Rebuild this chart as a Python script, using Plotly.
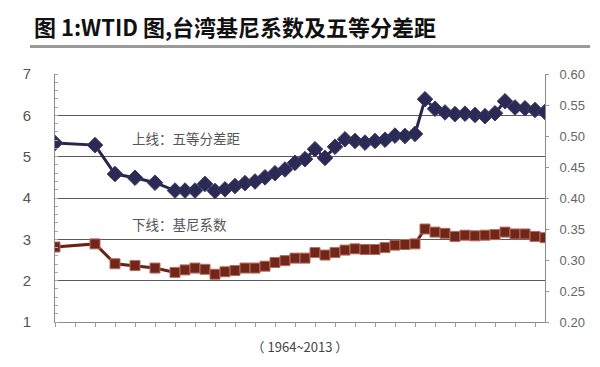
import plotly.graph_objects as go

years = [1964, 1968, 1970, 1972, 1974, 1976, 1977, 1978, 1979, 1980, 1981, 1982, 1983,
         1984, 1985, 1986, 1987, 1988, 1989, 1990, 1991, 1992, 1993, 1994, 1995, 1996,
         1997, 1998, 1999, 2000, 2001, 2002, 2003, 2004, 2005, 2006, 2007, 2008, 2009,
         2010, 2011, 2012, 2013]

quintile_ratio = [5.33, 5.28, 4.58, 4.49, 4.37, 4.18, 4.18, 4.18, 4.34, 4.17, 4.21, 4.29, 4.36,
                  4.40, 4.50, 4.60, 4.69, 4.85, 4.94, 5.18, 4.97, 5.24, 5.42, 5.38, 5.34, 5.38,
                  5.41, 5.51, 5.50, 5.55, 6.39, 6.16, 6.07, 6.03, 6.04, 6.01, 5.98, 6.05, 6.34,
                  6.19, 6.17, 6.13, 6.08]

gini = [0.321, 0.326, 0.294, 0.291, 0.287, 0.280, 0.284, 0.287, 0.285, 0.277, 0.281, 0.283, 0.287,
        0.287, 0.290, 0.296, 0.299, 0.303, 0.303, 0.312, 0.308, 0.312, 0.316, 0.318, 0.317, 0.317,
        0.320, 0.324, 0.325, 0.326, 0.350, 0.345, 0.343, 0.338, 0.340, 0.339, 0.340, 0.341, 0.345,
        0.342, 0.342, 0.338, 0.336]

left_ticks = [1, 2, 3, 4, 5, 6, 7]
right_ticks = [0.20, 0.25, 0.30, 0.35, 0.40, 0.45, 0.50, 0.55, 0.60]

title_text = "图 1:WTID 图,台湾基尼系数及五等分差距"
upper_label = "上线：五等分差距"
lower_label = "下线：基尼系数"
x_title = "（ 1964~2013 ）"

CJK = "Noto Sans CJK SC, Noto Sans, sans-serif"

fig = go.Figure()

fig.add_trace(go.Scatter(
    x=years, y=quintile_ratio, mode="lines+markers", yaxis="y",
    line=dict(color="#262650", width=3),
    marker=dict(symbol="diamond", size=12, color="#2a2a55",
                line=dict(color="#3a3a6a", width=1)),
    showlegend=False,
))

fig.add_trace(go.Scatter(
    x=years, y=gini, mode="lines+markers", yaxis="y2",
    line=dict(color="#6a2216", width=3),
    marker=dict(symbol="square", size=10, color="#702719",
                line=dict(color="#b86a5c", width=1)),
    showlegend=False,
))

fig.update_layout(
    width=600, height=367,
    margin=dict(l=47, r=63, t=66, b=53),
    paper_bgcolor="white", plot_bgcolor="white",
    font=dict(family=CJK, color="#555555"),
    xaxis=dict(
        range=[1964, 2013], showgrid=False, zeroline=False,
        showline=True, linecolor="#8a8a8a", linewidth=1, mirror=False,
        ticks="outside", ticklen=4, tickcolor="#9a9a9a", dtick=2, tick0=1964,
        showticklabels=False,
        title=dict(text=x_title, font=dict(size=13, color="#444444"), standoff=16),
    ),
    yaxis=dict(
        range=[1, 7], tickvals=left_ticks, ticktext=[str(v) for v in left_ticks],
        showgrid=True, gridcolor="#5a5a5a", gridwidth=1, zeroline=False,
        showline=True, linecolor="#8a8a8a", linewidth=1, mirror=True,
        ticks="", ticklabelstandoff=20,
        tickfont=dict(size=15, color="#555555", family="Liberation Sans, Arial, sans-serif"),
        minor=dict(ticks="inside", ticklen=3, dtick=0.2, tickcolor="#aaaaaa", showgrid=False),
    ),
    yaxis2=dict(
        range=[0.2, 0.6], tickvals=right_ticks,
        ticktext=["%.2f" % v for v in right_ticks],
        overlaying="y", side="right", showgrid=False, zeroline=False,
        showline=True, linecolor="#8a8a8a", linewidth=1,
        ticks="outside", ticklen=3, tickcolor="#999999", ticklabelstandoff=8,
        tickfont=dict(size=13, color="#666666", family="Liberation Sans, Arial, sans-serif"),
    ),
    annotations=[
        dict(text=title_text, xref="paper", yref="paper", x=-0.047, y=1.12,
             xanchor="left", yanchor="bottom", showarrow=False,
             font=dict(size=22, color="#111111", family=CJK, weight="bold")),
        dict(text=upper_label, x=1977.1, y=5.45, xref="x", yref="y",
             showarrow=False, font=dict(size=13.5, color="#555555", family=CJK)),
        dict(text=lower_label, x=1976.4, y=3.37, xref="x", yref="y",
             showarrow=False, font=dict(size=13.5, color="#555555", family=CJK)),
    ],
    shapes=[
        dict(type="line", xref="paper", yref="paper", x0=-0.051, x1=1.092,
             y0=1.111, y1=1.111, line=dict(color="#9a9a9a", width=3)),
    ],
)

fig.write_html("out.html")
